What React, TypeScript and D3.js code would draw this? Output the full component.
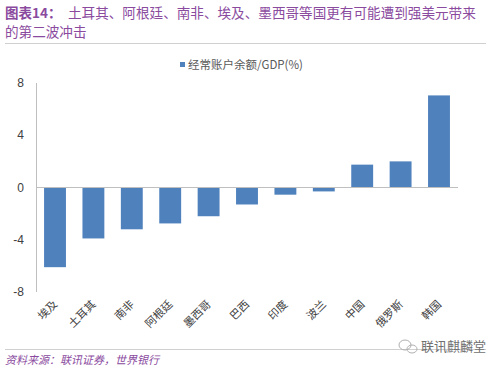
import * as d3 from 'd3';
import { useEffect, useRef } from 'react';

const countries = ['埃及', '土耳其', '南非', '阿根廷', '墨西哥', '巴西', '印度', '波兰', '中国', '俄罗斯', '韩国'];
const balance = [-6.1, -3.9, -3.2, -2.75, -2.2, -1.3, -0.55, -0.3, 1.75, 2.0, 7.05];
const yTicks = [-8, -4, 0, 4, 8];
const seriesName = '经常账户余额/GDP(%)';

const App = (): React.ReactElement => {
  const ref: any = useRef();
  const width = 500;
  const height = 370;
  const purple = '#8a4a9e';

  useEffect(() => {
    const svg = d3.select(ref.current);
    svg.selectAll('*').remove();

    const x = d3.scaleBand().domain(countries).range([36, 458]).paddingInner(0.43).paddingOuter(0.21);
    const y = d3.scaleLinear().domain([-8, 8]).range([292, 83]);

    // title
    const title = svg.append('g').attr('font-family', '"Noto Sans CJK SC", sans-serif').attr('fill', purple);
    title.append('text').attr('x', 5).attr('y', 18).attr('font-size', 13.5).attr('font-weight', 'bold').text('图表14：');
    title.append('text').attr('x', 68).attr('y', 18).attr('font-size', 13.6).text('土耳其、阿根廷、南非、埃及、墨西哥等国更有可能遭到强美元带来');
    title.append('text').attr('x', 5).attr('y', 37).attr('font-size', 13.6).text('的第二波冲击');
    svg.append('line').attr('x1', 5).attr('x2', 486).attr('y1', 43.5).attr('y2', 43.5).attr('stroke', '#d0d0d0');

    // legend
    svg.append('rect').attr('x', 180).attr('y', 62).attr('width', 5).attr('height', 5).attr('fill', '#4f81bd');
    svg
      .append('text')
      .attr('x', 188)
      .attr('y', 69)
      .attr('font-size', 11.5)
      .attr('font-family', '"Noto Sans CJK SC", sans-serif')
      .attr('fill', '#595959')
      .text(seriesName);

    // y axis
    svg.append('line').attr('x1', 36.5).attr('x2', 36.5).attr('y1', y(8)).attr('y2', y(-8)).attr('stroke', '#bfbfbf');
    svg
      .append('g')
      .selectAll('text')
      .data(yTicks)
      .enter()
      .append('text')
      .attr('x', 24)
      .attr('y', (d) => y(d) + 4)
      .attr('text-anchor', 'end')
      .attr('font-size', 12)
      .attr('font-family', '"Liberation Sans", Arial, sans-serif')
      .attr('fill', '#404040')
      .text((d) => d);

    // bars
    svg
      .append('g')
      .selectAll('rect')
      .data(countries)
      .enter()
      .append('rect')
      .attr('x', (d) => x(d) ?? 0)
      .attr('y', (d, i) => y(Math.max(0, balance[i])))
      .attr('width', x.bandwidth())
      .attr('height', (d, i) => Math.abs(y(balance[i]) - y(0)))
      .attr('fill', '#4f81bd');

    // zero line
    svg.append('line').attr('x1', 36).attr('x2', 458).attr('y1', y(0)).attr('y2', y(0)).attr('stroke', '#bfbfbf');

    // category labels
    svg
      .append('g')
      .selectAll('text')
      .data(countries)
      .enter()
      .append('text')
      .attr('transform', (d) => 'translate(' + ((x(d) ?? 0) + x.bandwidth() / 2 + 3) + ',' + 305 + ') rotate(-45)')
      .attr('text-anchor', 'end')
      .attr('font-size', 11)
      .attr('font-family', '"Noto Sans CJK SC", sans-serif')
      .attr('fill', '#404040')
      .text((d) => d);

    // footer
    svg.append('line').attr('x1', 5).attr('x2', 486).attr('y1', 349.5).attr('y2', 349.5).attr('stroke', '#d0d0d0');
    svg
      .append('text')
      .attr('x', 5)
      .attr('y', 364)
      .attr('font-size', 11)
      .attr('font-style', 'italic')
      .attr('font-family', '"Noto Sans CJK SC", sans-serif')
      .attr('fill', purple)
      .text('资料来源：联讯证券，世界银行');

    // watermark
    const wm = svg.append('g').attr('fill', 'none').attr('stroke', '#b0b0b0');
    wm.append('ellipse').attr('cx', 405).attr('cy', 345).attr('rx', 6).attr('ry', 5);
    wm.append('ellipse').attr('cx', 412).attr('cy', 349).attr('rx', 5).attr('ry', 4);
    svg
      .append('text')
      .attr('x', 421)
      .attr('y', 351)
      .attr('font-size', 13)
      .attr('font-family', '"Noto Sans CJK SC", sans-serif')
      .attr('fill', '#707070')
      .text('联讯麒麟堂');
  }, []);

  return (
    <svg
      ref={ref}
      width={width}
      height={height}
      style={{ position: 'absolute', left: 0, top: 0, background: '#fff' }}
    />
  );
};

export default App;
